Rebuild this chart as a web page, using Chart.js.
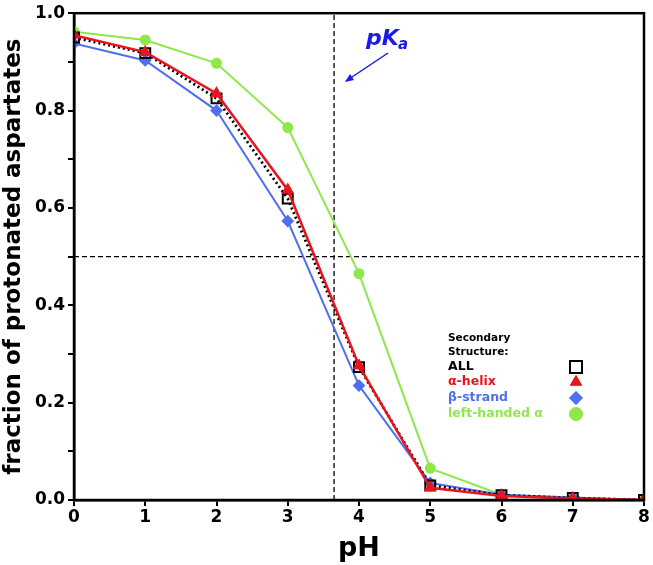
<!DOCTYPE html>
<html>
<head>
<meta charset="utf-8">
<script src="https://cdn.jsdelivr.net/npm/chart.js@4.4.1/dist/chart.umd.min.js"></script>
<style>
  html, body { margin: 0; padding: 0; background: #fff; }
  #wrap { width: 653px; height: 565px; }
</style>
</head>
<body>
<div id="wrap"><canvas id="main-chart"></canvas></div>
<script>
// datos
const phValues = [0, 1, 2, 3, 4, 5, 6, 7, 8];
const allValues = [0.950, 0.918, 0.825, 0.619, 0.273, 0.030, 0.010, 0.004, 0.000];
const helixValues = [0.955, 0.920, 0.835, 0.637, 0.276, 0.025, 0.008, 0.003, 0.000];
const strandValues = [0.938, 0.903, 0.800, 0.573, 0.235, 0.035, 0.011, 0.005, 0.000];
const leftValues = [0.962, 0.945, 0.897, 0.765, 0.465, 0.065, 0.011, 0.002, 0.000];
const pKa = 3.65;
const halfLine = 0.5;
const legendLabels = ['ALL', 'α-helix', 'β-strand', 'left-handed α'];

const FONT = '"DejaVu Sans", Verdana, sans-serif';

function pts(ys) {
    return phValues.map((x, i) => ({ x: x, y: ys[i] }));
}

// marco, leyenda y anotacion pKa
const extrasPlugin = {
    id: 'extras',
    afterDraw(chart) {
        const ctx = chart.ctx;
        const a = chart.chartArea;
        ctx.save();
        ctx.strokeStyle = '#000';
        ctx.lineWidth = 2.5;
        ctx.strokeRect(a.left, a.top, a.right - a.left, a.bottom - a.top);

        // leyenda
        ctx.textBaseline = 'middle';
        ctx.textAlign = 'left';
        ctx.font = 'bold 10.5px ' + FONT;
        ctx.fillStyle = '#000';
        ctx.fillText('Secondary', 448, 338);
        ctx.fillText('Structure:', 448, 352);
        const rows = [
            { y: 367, color: '#000000', style: 'rect' },
            { y: 382, color: '#e8141e', style: 'triangle' },
            { y: 398, color: '#4f6ff0', style: 'rectRot' },
            { y: 414, color: '#8ee84a', style: 'circle' }
        ];
        ctx.font = 'bold 12.5px ' + FONT;
        rows.forEach((r, i) => {
            ctx.fillStyle = r.color;
            ctx.fillText(legendLabels[i], 448, r.y);
            if (r.style === 'rect') {
                ctx.lineWidth = 2;
                ctx.strokeStyle = '#000';
                ctx.strokeRect(570, r.y - 6, 12, 12);
            } else {
                ctx.strokeStyle = r.color;
                ctx.lineWidth = 1;
                Chart.helpers.drawPoint(ctx, { pointStyle: r.style, radius: 6.5, borderWidth: 1 }, 576, r.y);
                ctx.fill();
            }
        });

        // pKa
        ctx.fillStyle = '#1a1ae6';
        ctx.font = 'italic bold 22px ' + FONT;
        ctx.textBaseline = 'alphabetic';
        ctx.fillText('pK', 366, 45);
        ctx.font = 'italic bold 15px ' + FONT;
        ctx.fillText('a', 398, 49);
        ctx.strokeStyle = '#1a1ae6';
        ctx.lineWidth = 1.5;
        ctx.beginPath();
        ctx.moveTo(388, 53);
        ctx.lineTo(346, 81);
        ctx.stroke();
        ctx.beginPath();
        ctx.moveTo(345, 82);
        ctx.lineTo(350, 74);
        ctx.lineTo(354, 80);
        ctx.closePath();
        ctx.fill();
        ctx.restore();
    }
};

const ctx = document.getElementById('main-chart');
new Chart(ctx, {
    type: 'line',
    data: {
        datasets: [
            {
                label: 'pKa',
                data: [{ x: pKa, y: 0 }, { x: pKa, y: 1 }],
                borderColor: '#000',
                borderWidth: 1.3,
                borderDash: [5, 3],
                pointRadius: 0,
                order: 10
            },
            {
                label: 'half',
                data: [{ x: 0, y: halfLine }, { x: 8, y: halfLine }],
                borderColor: '#000',
                borderWidth: 1.3,
                borderDash: [5, 3],
                pointRadius: 0,
                order: 10
            },
            {
                label: legendLabels[3],
                data: pts(leftValues),
                borderColor: '#8ee84a',
                backgroundColor: '#8ee84a',
                borderWidth: 2,
                pointStyle: 'circle',
                pointRadius: 4.5,
                order: 5
            },
            {
                label: legendLabels[2],
                data: pts(strandValues),
                borderColor: '#4f6ff0',
                backgroundColor: '#4f6ff0',
                borderWidth: 2,
                pointStyle: 'rectRot',
                pointRadius: 5,
                order: 4
            },
            {
                label: legendLabels[0],
                data: pts(allValues),
                borderColor: '#000',
                backgroundColor: 'rgba(0,0,0,0)',
                borderWidth: 2.8,
                borderDash: [2, 3],
                pointStyle: 'rect',
                pointRadius: 7,
                pointBorderWidth: 2,
                order: 3
            },
            {
                label: legendLabels[1],
                data: pts(helixValues),
                borderColor: '#e8141e',
                backgroundColor: '#e8141e',
                borderWidth: 2.5,
                pointStyle: 'triangle',
                pointRadius: 5,
                order: 2
            }
        ]
    },
    options: {
        responsive: true,
        maintainAspectRatio: false,
        animation: false,
        layout: { padding: { top: 0, right: 8, left: 0, bottom: 0 } },
        plugins: {
            legend: { display: false },
            tooltip: { enabled: false }
        },
        scales: {
            x: {
                type: 'linear',
                min: 0,
                max: 8,
                afterFit: s => { s.height = 65; },
                border: { display: true, color: '#000', width: 2.5 },
                grid: { drawOnChartArea: false, drawTicks: true, tickLength: 6, color: '#000', lineWidth: 2 },
                ticks: {
                    stepSize: 1,
                    color: '#000',
                    padding: 1,
                    font: { family: FONT, size: 17, weight: 'bold' }
                },
                title: {
                    display: true,
                    text: 'pH',
                    color: '#000',
                    padding: { top: 0, bottom: 0 },
                    font: { family: FONT, size: 27, weight: 'bold' }
                }
            },
            y: {
                type: 'linear',
                min: 0,
                max: 1,
                afterFit: s => { s.width = 74; },
                border: { display: true, color: '#000', width: 2.5 },
                grid: { drawOnChartArea: false, drawTicks: true, tickLength: 6, color: '#000', lineWidth: 2 },
                ticks: {
                    stepSize: 0.1,
                    color: '#000',
                    padding: 3,
                    autoSkip: false,
                    font: { family: FONT, size: 17, weight: 'bold' },
                    callback: v => (Math.round(v * 10) % 2 === 0 ? v.toFixed(1) : '')
                },
                title: {
                    display: true,
                    text: 'fraction of protonated aspartates',
                    color: '#000',
                    padding: { top: 0, bottom: 0 },
                    font: { family: FONT, size: 23, weight: 'bold' }
                }
            }
        }
    },
    plugins: [extrasPlugin]
});
</script>
</body>
</html>
